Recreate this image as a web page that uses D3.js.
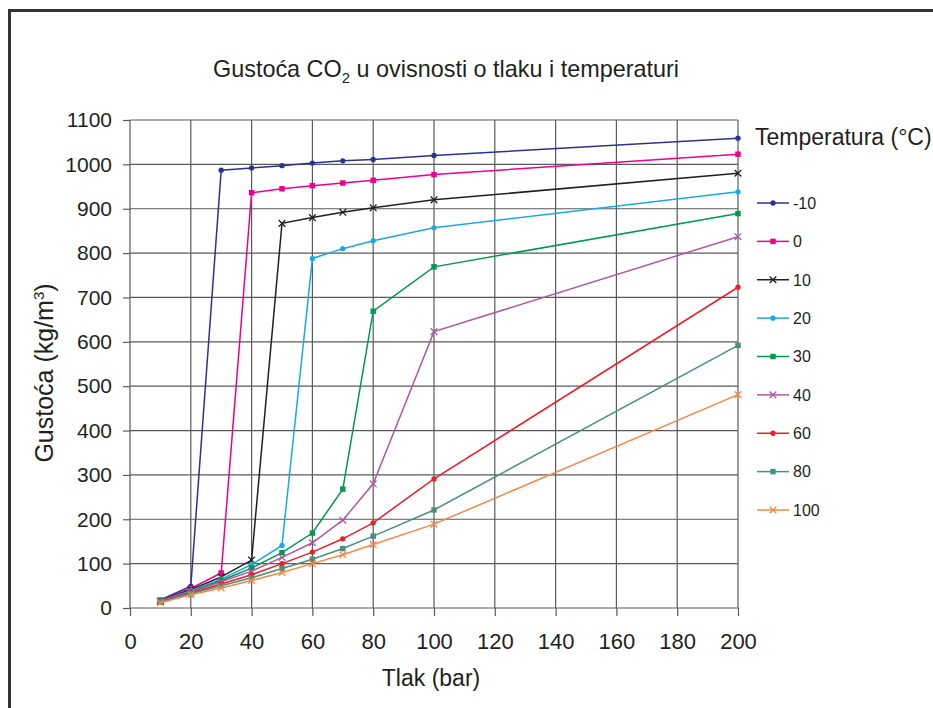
<!DOCTYPE html>
<html>
<head>
<meta charset="utf-8">
<script src="https://cdn.jsdelivr.net/npm/d3@7"></script>
<style>
  body { margin: 0; background: #fff; }
  text { font-family: "Liberation Sans", Arial, sans-serif; fill: #231f20; }
</style>
</head>
<body>
<div id="chart"></div>
<script>
// tlak (bar)
const pressures = [10, 20, 30, 40, 50, 60, 70, 80, 100, 200];

// gustoća (kg/m3) po temperaturi
const densMinus10 = [18, 49, 987, 992, 997, 1003, 1008, 1011, 1020, 1059];
const dens0 = [17, 44, 79, 936, 945, 952, 958, 964, 977, 1023];
const dens10 = [16, 41, 70, 108, 867, 880, 892, 902, 920, 980];
const dens20 = [16, 39, 65, 98, 141, 788, 810, 828, 857, 938];
const dens30 = [15, 37, 62, 90, 125, 169, 268, 669, 769, 889];
const dens40 = [14, 36, 59, 83, 114, 147, 198, 280, 623, 837];
const dens60 = [13, 34, 54, 75, 100, 126, 156, 192, 291, 723];
const dens80 = [13, 32, 50, 68, 89, 110, 134, 162, 221, 592];
const dens100 = [12, 30, 45, 62, 80, 100, 120, 143, 189, 481];

const tempLabels = ["-10", "0", "10", "20", "30", "40", "60", "80", "100"];
const xTicks = [0, 20, 40, 60, 80, 100, 120, 140, 160, 180, 200];
const yTicks = [0, 100, 200, 300, 400, 500, 600, 700, 800, 900, 1000, 1100];

const series = [
    {label: tempLabels[0], values: densMinus10, color: "#2e3192", marker: "circle"},
    {label: tempLabels[1], values: dens0, color: "#ec008c", marker: "square"},
    {label: tempLabels[2], values: dens10, color: "#231f20", marker: "cross"},
    {label: tempLabels[3], values: dens20, color: "#1ba9e1", marker: "circle"},
    {label: tempLabels[4], values: dens30, color: "#009a4e", marker: "square"},
    {label: tempLabels[5], values: dens40, color: "#ad5a9e", marker: "cross"},
    {label: tempLabels[6], values: dens60, color: "#e8202a", marker: "circle"},
    {label: tempLabels[7], values: dens80, color: "#4a8f7f", marker: "square"},
    {label: tempLabels[8], values: dens100, color: "#f4884a", marker: "cross"}
];

const W = 933, H = 708;
const plot = {left: 130, right: 738, top: 120, bottom: 608};

const svg = d3.select("#chart").append("svg")
    .attr("width", W)
    .attr("height", H);

svg.append("rect").attr("width", W).attr("height", H).attr("fill", "#fff");

// okvir
svg.append("rect")
    .attr("x", 9.5).attr("y", 10.5)
    .attr("width", W + 20).attr("height", H + 20)
    .attr("fill", "none")
    .attr("stroke", "#333")
    .attr("stroke-width", 3);

const x = d3.scaleLinear().domain([0, 200]).range([plot.left, plot.right]);
const y = d3.scaleLinear().domain([0, 1100]).range([plot.bottom, plot.top]);

// mreža
const grid = svg.append("g").attr("stroke", "#5a5a5a").attr("stroke-width", 1.2);
grid.selectAll("line.v").data(xTicks).enter().append("line")
    .attr("x1", d => x(d)).attr("x2", d => x(d))
    .attr("y1", plot.top).attr("y2", plot.bottom);
grid.selectAll("line.h").data(yTicks).enter().append("line")
    .attr("x1", plot.left).attr("x2", plot.right)
    .attr("y1", d => y(d)).attr("y2", d => y(d));

// osi
const xAxis = svg.append("g")
    .attr("transform", "translate(0," + plot.bottom + ")")
    .call(d3.axisBottom(x).tickValues(xTicks).tickFormat(d3.format("d"))
        .tickSize(8).tickPadding(17).tickSizeOuter(0));
const yAxis = svg.append("g")
    .attr("transform", "translate(" + plot.left + ",0)")
    .call(d3.axisLeft(y).tickValues(yTicks).tickFormat(d3.format("d"))
        .tickSize(7).tickPadding(11).tickSizeOuter(0));

[xAxis, yAxis].forEach(g => {
    g.select(".domain").remove();
    g.selectAll(".tick line").attr("stroke", "#5a5a5a").attr("stroke-width", 1.2);
    g.selectAll(".tick text")
        .attr("fill", "#231f20")
        .style("font-family", "'Liberation Sans', Arial, sans-serif");
});
xAxis.selectAll(".tick text").style("font-size", "22px");
yAxis.selectAll(".tick text").style("font-size", "21px");

// linije
const line = d3.line()
    .x((d, i) => x(pressures[i]))
    .y(d => y(d));

const crossType = {
    draw(ctx, size) {
        const r = Math.sqrt(size) / 2;
        ctx.moveTo(-r, -r); ctx.lineTo(r, r);
        ctx.moveTo(r, -r); ctx.lineTo(-r, r);
    }
};

function drawMarker(g, marker, color) {
    if (marker === "circle") {
        g.append("path").attr("d", d3.symbol(d3.symbolCircle, 22)())
            .attr("fill", color);
    } else if (marker === "square") {
        g.append("path").attr("d", d3.symbol(d3.symbolSquare, 30)())
            .attr("fill", color);
    } else {
        g.append("path").attr("d", d3.symbol(crossType, 44)())
            .attr("fill", "none")
            .attr("stroke", color)
            .attr("stroke-width", 1.3);
    }
}

const lines = svg.append("g");
series.forEach(s => {
    const g = lines.append("g");
    g.append("path")
        .attr("d", line(s.values))
        .attr("fill", "none")
        .attr("stroke", s.color)
        .attr("stroke-width", 1.5);
    s.values.forEach((v, i) => {
        const m = g.append("g").attr("transform", "translate(" + x(pressures[i]) + "," + y(v) + ")");
        drawMarker(m, s.marker, s.color);
    });
});

// naslov
const title = svg.append("text")
    .attr("x", 446).attr("y", 77)
    .attr("text-anchor", "middle")
    .style("font-size", "23.4px");
title.append("tspan").text("Gustoća CO");
title.append("tspan").attr("dy", 6).style("font-size", "15px").text("2");
title.append("tspan").attr("dy", -6).text(" u ovisnosti o tlaku i temperaturi");

// naslovi osi
svg.append("text")
    .attr("x", 431).attr("y", 686)
    .attr("text-anchor", "middle")
    .style("font-size", "23px")
    .text("Tlak (bar)");

const yTitle = svg.append("text")
    .attr("transform", "translate(53,373) rotate(-90)")
    .attr("text-anchor", "middle")
    .style("font-size", "25px");
yTitle.append("tspan").text("Gustoća (kg/m");
yTitle.append("tspan").attr("dy", -9).style("font-size", "15px").text("3");
yTitle.append("tspan").attr("dy", 9).text(")");

// legenda
svg.append("text")
    .attr("x", 755).attr("y", 145)
    .style("font-size", "23px")
    .text("Temperatura (°C)");

const legendY = d3.scalePoint().domain(tempLabels).range([203, 510]);
const legend = svg.append("g");
series.forEach(s => {
    const g = legend.append("g").attr("transform", "translate(0," + legendY(s.label) + ")");
    g.append("line")
        .attr("x1", 757).attr("x2", 789)
        .attr("stroke", s.color).attr("stroke-width", 1.5);
    const m = g.append("g").attr("transform", "translate(773,0)");
    drawMarker(m, s.marker, s.color);
    g.append("text")
        .attr("x", 793).attr("dy", "0.36em")
        .style("font-size", "16px")
        .text(s.label);
});
</script>
</body>
</html>
